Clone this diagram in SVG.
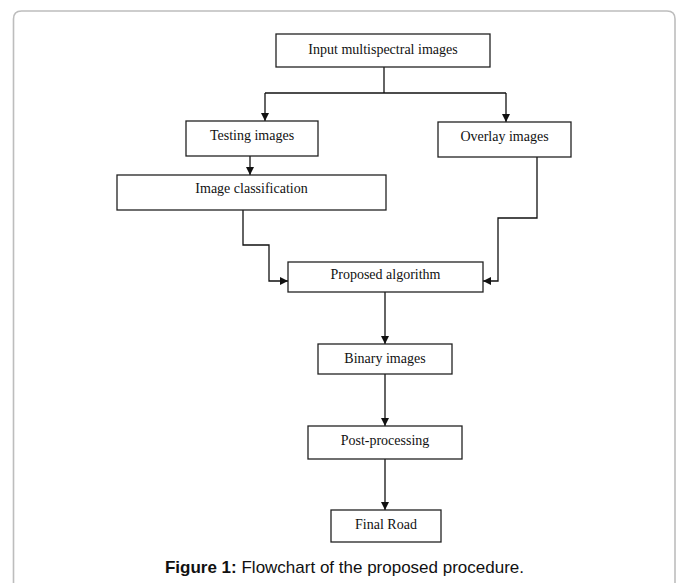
<svg xmlns="http://www.w3.org/2000/svg" width="678" height="583" viewBox="0 0 678 583">
  <style>
    .box{fill:#fff;stroke:#222;stroke-width:1.3}
    .lbl{font-family:"Liberation Serif","Times New Roman",serif;font-size:14px;fill:#111;text-anchor:middle}
    .con{fill:none;stroke:#111;stroke-width:1.3}
    .cap{font-family:"Liberation Sans",Arial,sans-serif;font-size:17px;fill:#111;text-anchor:middle}
  </style>
  <defs>
    <marker id="arr" markerWidth="8" markerHeight="8" refX="8" refY="4" orient="auto" markerUnits="userSpaceOnUse">
      <path d="M0,0 L8,4 L0,8 Z" fill="#111"/>
    </marker>
  </defs>
  <rect x="0" y="0" width="678" height="583" fill="#fff"/>
  <path d="M13.5,600 V19 Q13.5,11 21.5,11 H667 Q675,11 675,19 V600" fill="none" stroke="#bdbdbd" stroke-width="1.6"/>

  <g id="connectors">
    <path class="con" d="M384,67 V93"/>
    <path class="con" d="M265,93 H506"/>
    <path class="con" d="M265,93 V121" marker-end="url(#arr)"/>
    <path class="con" d="M506,93 V122" marker-end="url(#arr)"/>
    <path class="con" d="M250,156 V175" marker-end="url(#arr)"/>
    <path class="con" d="M243,210 V245 H269 V281 H288" marker-end="url(#arr)"/>
    <path class="con" d="M537,157 V218 H498 V281 H483" marker-end="url(#arr)"/>
    <path class="con" d="M385,292 V344" marker-end="url(#arr)"/>
    <path class="con" d="M385,374 V426" marker-end="url(#arr)"/>
    <path class="con" d="M385,459 V510" marker-end="url(#arr)"/>
  </g>

  <g id="input">
    <rect class="box" x="276" y="34" width="214" height="33"/>
    <text class="lbl" x="383" y="54">Input multispectral images</text>
  </g>
  <g id="testing">
    <rect class="box" x="186" y="121" width="132" height="35"/>
    <text class="lbl" x="252" y="140">Testing images</text>
  </g>
  <g id="overlay">
    <rect class="box" x="438" y="122" width="133" height="35"/>
    <text class="lbl" x="504.5" y="141">Overlay images</text>
  </g>
  <g id="classification">
    <rect class="box" x="117" y="175" width="269" height="35"/>
    <text class="lbl" x="251.5" y="193">Image classification</text>
  </g>
  <g id="proposed">
    <rect class="box" x="288" y="262" width="195" height="30"/>
    <text class="lbl" x="385.5" y="279">Proposed algorithm</text>
  </g>
  <g id="binary">
    <rect class="box" x="318" y="344" width="134" height="30"/>
    <text class="lbl" x="385" y="363">Binary images</text>
  </g>
  <g id="post">
    <rect class="box" x="308" y="426" width="154" height="33"/>
    <text class="lbl" x="385" y="445">Post-processing</text>
  </g>
  <g id="final">
    <rect class="box" x="331" y="510" width="110" height="32"/>
    <text class="lbl" x="386" y="529">Final Road</text>
  </g>

  <text class="cap" x="344.5" y="573"><tspan font-weight="bold">Figure 1:</tspan> Flowchart of the proposed procedure.</text>
</svg>
